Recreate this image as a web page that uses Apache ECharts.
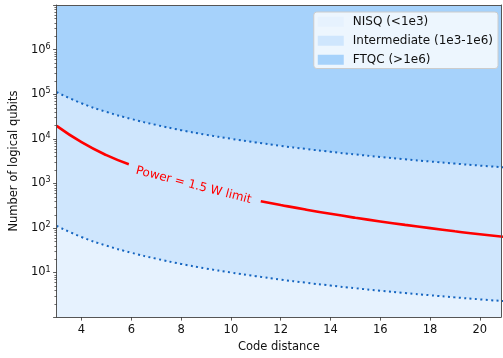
<!DOCTYPE html>
<html>
<head>
<meta charset="utf-8">
<script src="https://cdn.jsdelivr.net/npm/echarts@6/dist/echarts.min.js"></script>
<style>
  html, body { margin: 0; padding: 0; background: #fff; }
  #chart { width: 503px; height: 358px; }
</style>
</head>
<body>
<div id="chart"></div>
<script>
// code distance on the x axis
const distance = [3, 4, 5, 6, 7, 8, 9, 10, 11, 12, 13, 14, 15, 16, 17, 18, 19, 20, 21];
// NISQ / intermediate boundary (lower dotted curve)
const nisqBound = [111, 62.5, 40, 27.8, 20.4, 15.6, 12.3, 10, 8.26, 6.94, 5.92, 5.1, 4.44, 3.91, 3.46, 3.09, 2.77, 2.5, 2.27];
// intermediate / FTQC boundary (upper dotted curve)
const ftqcBound = [111000, 62500, 40000, 27800, 20400, 15600, 12300, 10000, 8260, 6940, 5920, 5100, 4440, 3910, 3460, 3090, 2770, 2500, 2270];
// power limit curve (red), broken where the inline label sits
const powerDistance = [3, 4, 5, 5.9, 11.2, 12, 13, 14, 15, 16, 17, 18, 19, 20, 21];
const powerLimit = [19500, 8400, 4300, 2690, 398, 327, 258, 207, 169, 140, 117, 99, 84, 72, 63];
const labelGap = [5.9, 11.2];
const powerLabel = 'Power = 1.5 W limit';
const powerLabelAt = [8.5, 900];

const xTicks = [4, 6, 8, 10, 12, 14, 16, 18, 20];
const xMin = 3, xMax = 20.85;
const yMin = 1, yMax = 1e7;
const decades = [1, 10, 100, 1e3, 1e4, 1e5, 1e6];
const minorSteps = [2, 3, 4, 5, 6, 7, 8, 9];

const regionNames = ['NISQ (<1e3)', 'Intermediate (1e3-1e6)', 'FTQC (>1e6)'];
const regionColors = ['#e6f2fe', '#cfe6fd', '#a6d2fb'];

const FONT = 'DejaVu Sans';
const boundColor = '#1565c0';

const pairs = (xs, ys) => xs.map((x, i) => [x, ys[i]]);

// red line with a break over the label
const powerData = [];
powerDistance.forEach((d, i) => {
  if (i > 0 && powerDistance[i - 1] <= labelGap[0] && d >= labelGap[1]) {
    powerData.push([(labelGap[0] + labelGap[1]) / 2, '-']);
  }
  powerData.push([d, powerLimit[i]]);
});

const minorTicks = [];
decades.forEach(p => minorSteps.forEach(m => { if (m * p < yMax) minorTicks.push([xMin, m * p]); }));

const chart = echarts.init(document.getElementById('chart'));

const option = {
  animation: false,
  textStyle: { fontFamily: FONT },
  grid: {
    left: 53, right: 2, top: 5, bottom: 39,
    show: true, backgroundColor: regionColors[2], borderWidth: 0
  },
  legend: {
    orient: 'vertical',
    right: 5, top: 12,
    icon: 'rect',
    itemWidth: 26, itemHeight: 10,
    itemGap: 1.5,
    padding: [1, 5, 0, 4],
    backgroundColor: 'rgba(255,255,255,0.8)',
    borderColor: '#cccccc', borderWidth: 1, borderRadius: 3,
    itemStyle: { borderWidth: 0 },
    textStyle: { fontFamily: FONT, fontSize: 12, color: '#111', lineHeight: 17.5, padding: [0, 0, 0, 4] },
    data: regionNames.map((n, i) => ({ name: n, itemStyle: { color: regionColors[i] } }))
  },
  xAxis: [{
    type: 'value', min: xMin, max: xMax, z: 5,
    name: 'Code distance', nameLocation: 'middle', nameGap: 21,
    nameTextStyle: { fontFamily: FONT, fontSize: 11.5, color: '#111' },
    axisLine: { show: true, lineStyle: { color: '#555', width: 1 } },
    axisTick: { show: true, customValues: xTicks, length: 3.5, lineStyle: { color: '#333', width: 0.8 } },
    axisLabel: { customValues: xTicks, margin: 7, fontSize: 11.5, color: '#111', fontFamily: FONT },
    splitLine: { show: false }
  }, {
    type: 'value', min: xMin, max: xMax, position: 'top', z: 5,
    axisLine: { show: true, lineStyle: { color: '#555', width: 1 } },
    axisTick: { show: false }, axisLabel: { show: false }, splitLine: { show: false }
  }],
  yAxis: [{
    type: 'log', logBase: 10, min: yMin, max: yMax, splitNumber: 7, z: 5,
    name: 'Number of logical qubits', nameLocation: 'middle', nameGap: 34,
    nameTextStyle: { fontFamily: FONT, fontSize: 11.5, color: '#111' },
    axisLine: { show: true, lineStyle: { color: '#555', width: 1 } },
    axisTick: { show: true, length: 3.5, lineStyle: { color: '#333', width: 0.8 } },
    axisLabel: {
      margin: 6,
      formatter: v => {
        const e = Math.round(Math.log10(v));
        if (e < 1 || e > 6) return '';
        return '{b|10}{s|' + e + '}';
      },
      rich: {
        b: { fontSize: 11.5, color: '#111', fontFamily: FONT },
        s: { fontSize: 8, color: '#111', fontFamily: FONT, padding: [0, 0, 6, 0] }
      }
    },
    splitLine: { show: false }
  }, {
    type: 'value', min: 0, max: 1, position: 'right', z: 5,
    axisLine: { show: true, lineStyle: { color: '#555', width: 1 } },
    axisTick: { show: false }, axisLabel: { show: false }, splitLine: { show: false }
  }],
  series: [
    {
      name: regionNames[1], type: 'line', smooth: true, showSymbol: false, silent: true, z: 1,
      data: pairs(distance, ftqcBound),
      itemStyle: { color: regionColors[1] },
      lineStyle: { width: 0 },
      areaStyle: { color: regionColors[1], opacity: 1, origin: 'start' }
    },
    {
      name: regionNames[0], type: 'line', smooth: true, showSymbol: false, silent: true, z: 1,
      data: pairs(distance, nisqBound),
      itemStyle: { color: regionColors[0] },
      lineStyle: { width: 0 },
      areaStyle: { color: regionColors[0], opacity: 1, origin: 'start' }
    },
    {
      name: regionNames[2], type: 'line', data: [],
      itemStyle: { color: regionColors[2] }
    },
    {
      name: 'ftqcLine', type: 'line', smooth: true, showSymbol: false, silent: true, z: 3,
      data: pairs(distance, ftqcBound),
      lineStyle: { color: boundColor, width: 2, type: [2, 3.4], cap: 'butt' }
    },
    {
      name: 'nisqLine', type: 'line', smooth: true, showSymbol: false, silent: true, z: 3,
      data: pairs(distance, nisqBound),
      lineStyle: { color: boundColor, width: 2, type: [2, 3.4], cap: 'butt' }
    },
    {
      name: 'power', type: 'line', smooth: true, showSymbol: false, silent: true, z: 4,
      connectNulls: false,
      data: powerData,
      lineStyle: { color: '#ff0000', width: 2.6 },
      markPoint: {
        symbol: 'circle', symbolSize: 0, silent: true,
        label: {
          show: true, position: 'inside', formatter: powerLabel, rotate: -14.5,
          color: '#ff0000', fontSize: 12, fontFamily: FONT
        },
        data: [{ coord: powerLabelAt }]
      }
    },
    {
      name: 'minorTicks', type: 'custom', silent: true, clip: false, z: 6,
      data: minorTicks,
      encode: { x: 0, y: 1 },
      renderItem: (params, api) => {
        const p = api.coord([api.value(0), api.value(1)]);
        const y = Math.round(p[1]) + 0.5;
        return {
          type: 'line',
          shape: { x1: p[0] - 2.2, y1: y, x2: p[0], y2: y },
          style: { stroke: '#333', lineWidth: 0.7 }
        };
      }
    }
  ]
};

chart.setOption(option);
</script>
</body>
</html>
